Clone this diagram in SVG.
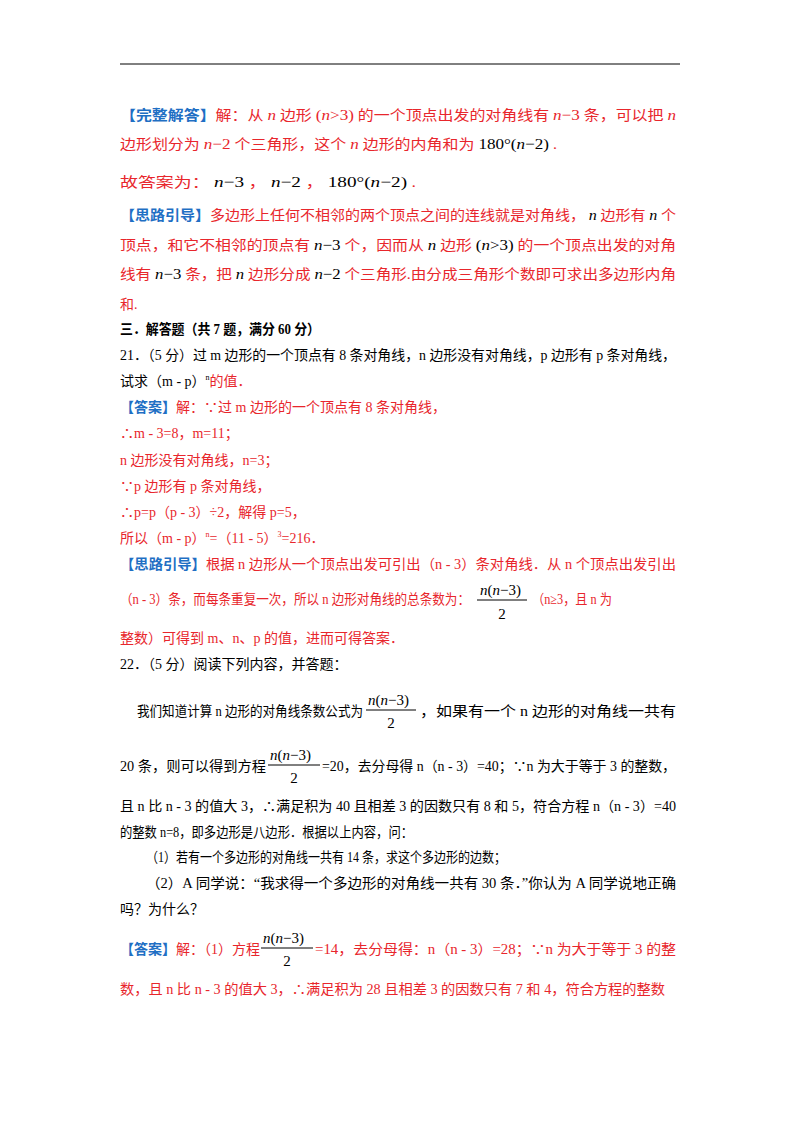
<svg xmlns="http://www.w3.org/2000/svg" width="800" height="1132" viewBox="0 0 800 1132">
<style>
text{font-family:"Liberation Serif","Noto Sans CJK SC",serif;font-size:14px;fill:#000}
.r{fill:#e8262c}
.b{fill:#1f6fc4;font-weight:bold}
.i{font-style:italic;font-size:15px}
.m{font-size:15px}
.h{font-weight:bold}
line{stroke:#000;stroke-width:1}
</style>
<rect width="800" height="1132" fill="#fff"/>
<line x1="120" y1="64" x2="680" y2="64"/>
<g>
<text x="120" y="120" class="r" textLength="556" lengthAdjust="spacingAndGlyphs"><tspan class="b">【完整解答】</tspan>解：从 <tspan class="i">n</tspan> 边形 <tspan class="m">(<tspan class="i">n</tspan>&gt;3)</tspan> 的一个顶点出发的对角线有 <tspan class="i">n</tspan><tspan class="m">−3</tspan> 条，可以把 <tspan class="i">n</tspan></text>
<text x="120" y="149" class="r" textLength="437" lengthAdjust="spacingAndGlyphs">边形划分为 <tspan class="i">n</tspan><tspan class="m">−2</tspan> 个三角形，这个 <tspan class="i">n</tspan> 边形的内角和为 <tspan class="m" fill="#000">180°(<tspan class="i">n</tspan>−2)</tspan> .</text>
<text x="120" y="187" class="r" textLength="296" lengthAdjust="spacingAndGlyphs">故答案为： <tspan class="i" fill="#000">n</tspan><tspan class="m" fill="#000">−3</tspan> ， <tspan class="i" fill="#000">n</tspan><tspan class="m" fill="#000">−2</tspan> ， <tspan class="m" fill="#000">180°(<tspan class="i">n</tspan>−2)</tspan> .</text>
<text x="120" y="220" class="r" textLength="556" lengthAdjust="spacingAndGlyphs"><tspan class="b">【思路引导】</tspan>多边形上任何不相邻的两个顶点之间的连线就是对角线， <tspan class="i" fill="#000">n</tspan> 边形有 <tspan class="i" fill="#000">n</tspan> 个</text>
<text x="120" y="250" class="r" textLength="556" lengthAdjust="spacingAndGlyphs">顶点，和它不相邻的顶点有 <tspan class="i" fill="#000">n</tspan><tspan class="m" fill="#000">−3</tspan> 个，因而从 <tspan class="i" fill="#000">n</tspan> 边形 <tspan class="m" fill="#000">(<tspan class="i">n</tspan>&gt;3)</tspan> 的一个顶点出发的对角</text>
<text x="120" y="279" class="r" textLength="556" lengthAdjust="spacingAndGlyphs">线有 <tspan class="i" fill="#000">n</tspan><tspan class="m" fill="#000">−3</tspan> 条，把 <tspan class="i" fill="#000">n</tspan> 边形分成 <tspan class="i" fill="#000">n</tspan><tspan class="m" fill="#000">−2</tspan> 个三角形.由分成三角形个数即可求出多边形内角</text>
<text x="120" y="309" class="r">和.</text>
</g>
<text x="120" y="334" class="h" textLength="200" lengthAdjust="spacingAndGlyphs">三．解答题（共 7 题，满分 60 分）</text>
<text x="120" y="360" textLength="556" lengthAdjust="spacingAndGlyphs">21．（5 分）过 m 边形的一个顶点有 8 条对角线，n 边形没有对角线，p 边形有 p 条对角线，</text>
<text x="120" y="386">试求（m - p）<tspan font-size="8" dy="-6">n</tspan><tspan class="r" dy="6">的值．</tspan></text>
<g>
<text x="120" y="412" class="r"><tspan class="b">【答案】</tspan>解：∵过 m 边形的一个顶点有 8 条对角线，</text>
<text x="120" y="438" class="r">∴m - 3=8，m=11；</text>
<text x="120" y="465" class="r">n 边形没有对角线，n=3；</text>
<text x="120" y="491" class="r">∵p 边形有 p 条对角线，</text>
<text x="120" y="517" class="r">∴p=p（p - 3）÷2，解得 p=5，</text>
<text x="120" y="543" class="r">所以（m - p）<tspan font-size="8" dy="-6">n</tspan><tspan dy="6">=（11 - 5）</tspan><tspan font-size="8" dy="-6">3</tspan><tspan dy="6">=216．</tspan></text>
<text x="120" y="569" class="r" textLength="556" lengthAdjust="spacingAndGlyphs"><tspan class="b">【思路引导】</tspan>根据 n 边形从一个顶点出发可引出（n - 3）条对角线．从 n 个顶点出发引出</text>
<text x="120" y="604" class="r" textLength="350" lengthAdjust="spacingAndGlyphs">（n - 3）条，而每条重复一次，所以 n 边形对角线的总条数为：</text>
<text x="480" y="595" class="m"><tspan class="i">n</tspan>(<tspan class="i">n</tspan>−3)</text>
<line x1="477" y1="600" x2="527" y2="600"/>
<text x="502" y="619" class="m" text-anchor="middle">2</text>
<text x="532" y="604" class="r" textLength="80" lengthAdjust="spacingAndGlyphs">（n≥3，且 n 为</text>
<text x="120" y="643" class="r">整数）可得到 m、n、p 的值，进而可得答案．</text>
</g>
<text x="120" y="669">22．（5 分）阅读下列内容，并答题：</text>
<text x="137" y="716" textLength="226" lengthAdjust="spacingAndGlyphs">我们知道计算 n 边形的对角线条数公式为</text>
<text x="368" y="705" class="m"><tspan class="i">n</tspan>(<tspan class="i">n</tspan>−3)</text>
<line x1="366" y1="710" x2="416" y2="710"/>
<text x="391" y="728" class="m" text-anchor="middle">2</text>
<text x="420" y="716" textLength="256" lengthAdjust="spacingAndGlyphs">，如果有一个 n 边形的对角线一共有</text>
<text x="120" y="771" textLength="146" lengthAdjust="spacingAndGlyphs">20 条，则可以得到方程</text>
<text x="270" y="760" class="m"><tspan class="i">n</tspan>(<tspan class="i">n</tspan>−3)</text>
<line x1="268" y1="765" x2="320" y2="765"/>
<text x="294" y="783" class="m" text-anchor="middle">2</text>
<text x="322" y="771" textLength="354" lengthAdjust="spacingAndGlyphs">=20，去分母得 n（n - 3）=40；∵n 为大于等于 3 的整数，</text>
<text x="120" y="811" textLength="556" lengthAdjust="spacingAndGlyphs">且 n 比 n - 3 的值大 3，∴满足积为 40 且相差 3 的因数只有 8 和 5，符合方程 n（n - 3）=40</text>
<text x="120" y="837" textLength="293" lengthAdjust="spacingAndGlyphs">的整数 n=8，即多边形是八边形．根据以上内容，问：</text>
<text x="146" y="862" textLength="360" lengthAdjust="spacingAndGlyphs">（1）若有一个多边形的对角线一共有 14 条，求这个多边形的边数；</text>
<text x="146" y="888" textLength="530" lengthAdjust="spacingAndGlyphs">（2）A 同学说：“我求得一个多边形的对角线一共有 30 条．”你认为 A 同学说地正确</text>
<text x="120" y="914">吗？为什么？</text>
<text x="120" y="954" class="r" textLength="140" lengthAdjust="spacingAndGlyphs"><tspan class="b">【答案】</tspan>解：（1）方程</text>
<text x="263" y="943" class="m"><tspan class="i">n</tspan>(<tspan class="i">n</tspan>−3)</text>
<line x1="261" y1="948" x2="313" y2="948"/>
<text x="287" y="966" class="m" text-anchor="middle">2</text>
<text x="315" y="954" class="r" textLength="361" lengthAdjust="spacingAndGlyphs">=14，去分母得：n（n - 3）=28；∵n 为大于等于 3 的整</text>
<text x="120" y="994" class="r" textLength="545" lengthAdjust="spacingAndGlyphs">数，且 n 比 n - 3 的值大 3，∴满足积为 28 且相差 3 的因数只有 7 和 4，符合方程的整数</text>
</svg>
